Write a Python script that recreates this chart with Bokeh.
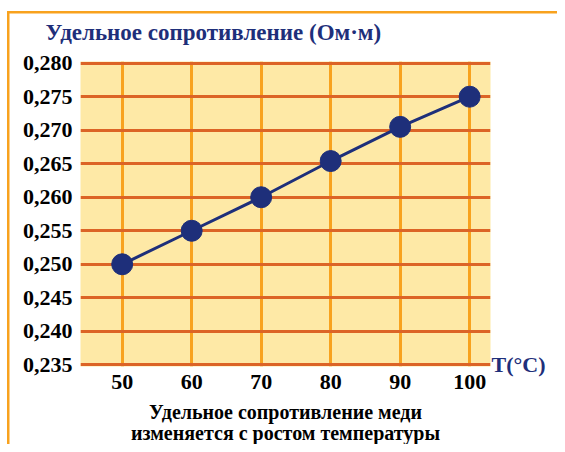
from bokeh.plotting import figure
from bokeh.models import (FixedTicker, CustomJSTickFormatter, Title, LinearAxis, Range1d)
from bokeh.embed import file_html
from bokeh.resources import INLINE

# data
temps = [50, 60, 70, 80, 90, 100]
resistivity = [0.250, 0.255, 0.260, 0.2654, 0.2705, 0.275]
y_ticks = [0.235, 0.240, 0.245, 0.250, 0.255, 0.260, 0.265, 0.270, 0.275, 0.280]
x_ticks = [50, 60, 70, 80, 90, 100]
title_text = "Удельное сопротивление (Ом·м)"
x_unit_text = "T(°C)"
caption_1 = "Удельное сопротивление меди"
caption_2 = "изменяется с ростом температуры"

NAVY = "#1E2F7A"
ORANGE = "#F8A21E"
DARK_ORANGE = "#DC6426"
FILL = "#FEE9A6"
FONT = "Liberation Serif"

W, H = 557, 444
p = figure(width=W, height=H, output_backend="svg", toolbar_location=None,
           x_range=Range1d(44, 103), y_range=Range1d(0.23475, 0.28025),
           min_border_left=80, min_border_right=67, min_border_top=61, min_border_bottom=78)
p.background_fill_color = FILL
p.border_fill_color = None
p.outline_line_color = None
p.styles = {
    "background-image": f"linear-gradient({ORANGE}, {ORANGE}), linear-gradient({ORANGE}, {ORANGE})",
    "background-size": "2.5px 100%, 100% 2.5px",
    "background-position": "7px 11px, 7px 11px",
    "background-repeat": "no-repeat",
    "background-color": "white",
}

# grids
p.xgrid.ticker = FixedTicker(ticks=x_ticks)
p.xgrid.grid_line_color = ORANGE
p.xgrid.grid_line_width = 3
p.ygrid.ticker = FixedTicker(ticks=y_ticks)
p.ygrid.grid_line_color = DARK_ORANGE
p.ygrid.grid_line_width = 3

# axes
unit_axis = LinearAxis(ticker=FixedTicker(ticks=[y_ticks[0]]),
                       formatter=CustomJSTickFormatter(args=dict(label=x_unit_text), code="return label;"))
p.add_layout(unit_axis, "right")

for ax in (p.xaxis[0], p.yaxis[0], unit_axis):
    ax.axis_line_color = None
    ax.major_tick_line_color = None
    ax.minor_tick_line_color = None
    ax.major_tick_in = 0
    ax.major_tick_out = 0
    ax.minor_tick_in = 0
    ax.minor_tick_out = 0
    ax.major_label_text_font = FONT
    ax.major_label_text_font_style = "bold"
    ax.major_label_text_font_size = "22px"
    ax.major_label_text_color = "black"
p.xaxis[0].ticker = FixedTicker(ticks=x_ticks)
p.yaxis[0].ticker = FixedTicker(ticks=y_ticks)
p.yaxis[0].formatter = CustomJSTickFormatter(code="return tick.toFixed(3).replace('.', ',');")
p.yaxis[0].major_label_standoff = 8
p.xaxis[0].major_label_standoff = 8
unit_axis.major_label_text_color = NAVY
unit_axis.major_label_standoff = 1

# data line and points
p.line(temps, resistivity, line_color=NAVY, line_width=3)
p.scatter(temps, resistivity, size=21, fill_color=NAVY, line_color=NAVY)

# title and caption
p.add_layout(Title(text=title_text, align="left", offset=-35, standoff=33,
                   text_font=FONT, text_font_style="bold", text_font_size="23px",
                   text_color=NAVY), "above")
p.add_layout(Title(text=caption_1, align="center", standoff=14,
                   text_font=FONT, text_font_style="bold", text_font_size="20px",
                   text_color="black"), "below")
p.add_layout(Title(text=caption_2, align="center", standoff=-20,
                   text_font=FONT, text_font_style="bold", text_font_size="20px",
                   text_color="black"), "below")

open("out.html", "w").write(file_html(p, INLINE))
